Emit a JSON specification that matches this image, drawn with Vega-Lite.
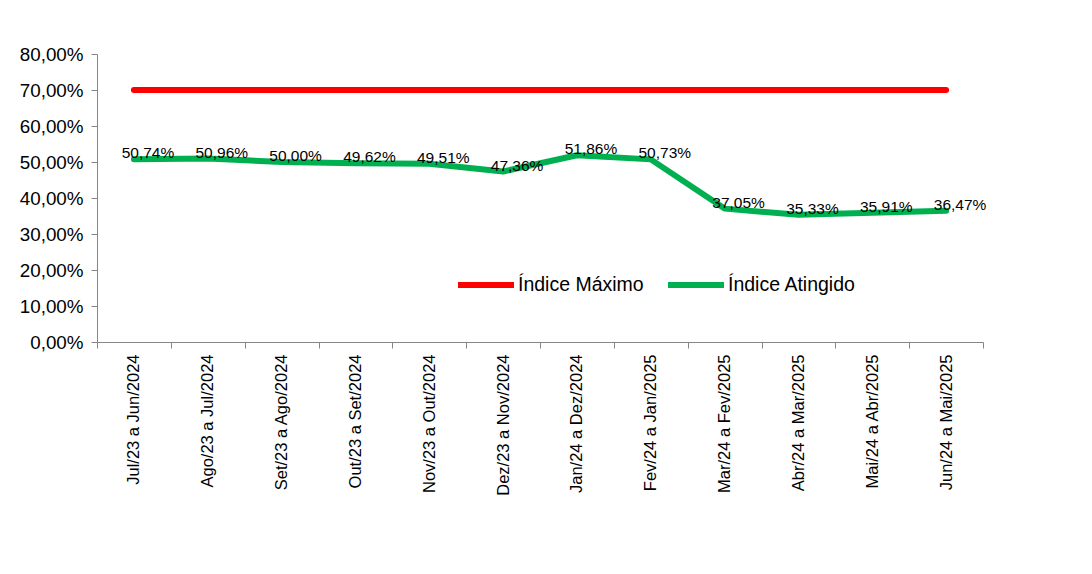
{
  "$schema": "https://vega.github.io/schema/vega-lite/v6.json",
  "width": 886,
  "height": 288,
  "autosize": {"type": "none"},
  "padding": {"left": 97, "top": 54, "right": 109, "bottom": 232},
  "background": "white",
  "config": {
    "font": "Liberation Sans",
    "view": {"stroke": null},
    "locale": {"number": {"decimal": ",", "thousands": ".", "grouping": [3], "currency": ["R$", ""]}}
  },
  "data": {
    "values": [
      {"periodo": "Jul/23 a Jun/2024", "serie": "Índice Máximo", "valor": 0.70},
      {"periodo": "Ago/23 a Jul/2024", "serie": "Índice Máximo", "valor": 0.70},
      {"periodo": "Set/23 a Ago/2024", "serie": "Índice Máximo", "valor": 0.70},
      {"periodo": "Out/23 a Set/2024", "serie": "Índice Máximo", "valor": 0.70},
      {"periodo": "Nov/23 a Out/2024", "serie": "Índice Máximo", "valor": 0.70},
      {"periodo": "Dez/23 a Nov/2024", "serie": "Índice Máximo", "valor": 0.70},
      {"periodo": "Jan/24 a Dez/2024", "serie": "Índice Máximo", "valor": 0.70},
      {"periodo": "Fev/24 a Jan/2025", "serie": "Índice Máximo", "valor": 0.70},
      {"periodo": "Mar/24 a Fev/2025", "serie": "Índice Máximo", "valor": 0.70},
      {"periodo": "Abr/24 a Mar/2025", "serie": "Índice Máximo", "valor": 0.70},
      {"periodo": "Mai/24 a Abr/2025", "serie": "Índice Máximo", "valor": 0.70},
      {"periodo": "Jun/24 a Mai/2025", "serie": "Índice Máximo", "valor": 0.70},
      {"periodo": "Jul/23 a Jun/2024", "serie": "Índice Atingido", "valor": 0.5074},
      {"periodo": "Ago/23 a Jul/2024", "serie": "Índice Atingido", "valor": 0.5096},
      {"periodo": "Set/23 a Ago/2024", "serie": "Índice Atingido", "valor": 0.5000},
      {"periodo": "Out/23 a Set/2024", "serie": "Índice Atingido", "valor": 0.4962},
      {"periodo": "Nov/23 a Out/2024", "serie": "Índice Atingido", "valor": 0.4951},
      {"periodo": "Dez/23 a Nov/2024", "serie": "Índice Atingido", "valor": 0.4736},
      {"periodo": "Jan/24 a Dez/2024", "serie": "Índice Atingido", "valor": 0.5186},
      {"periodo": "Fev/24 a Jan/2025", "serie": "Índice Atingido", "valor": 0.5073},
      {"periodo": "Mar/24 a Fev/2025", "serie": "Índice Atingido", "valor": 0.3705},
      {"periodo": "Abr/24 a Mar/2025", "serie": "Índice Atingido", "valor": 0.3533},
      {"periodo": "Mai/24 a Abr/2025", "serie": "Índice Atingido", "valor": 0.3591},
      {"periodo": "Jun/24 a Mai/2025", "serie": "Índice Atingido", "valor": 0.3647}
    ]
  },
  "encoding": {
    "x": {
      "field": "periodo",
      "type": "nominal",
      "sort": null,
      "bandPosition": 0.5,
      "scale": {"type": "band", "paddingInner": 0, "paddingOuter": 0},
      "axis": {
        "title": null,
        "labelAngle": -90,
        "labelFontSize": 16.5,
        "labelColor": "#000000",
        "labelPadding": 6,
        "tickBand": "extent",
        "tickSize": 6,
        "tickColor": "#868686",
        "domainColor": "#868686",
        "grid": false
      }
    },
    "y": {
      "field": "valor",
      "type": "quantitative",
      "scale": {"domain": [0, 0.8], "nice": false},
      "axis": {
        "title": null,
        "values": [0, 0.1, 0.2, 0.3, 0.4, 0.5, 0.6, 0.7, 0.8],
        "format": ".2%",
        "labelFontSize": 18.8,
        "labelColor": "#000000",
        "labelPadding": 8,
        "tickSize": 6,
        "tickColor": "#868686",
        "domainColor": "#868686",
        "grid": false
      }
    }
  },
  "layer": [
    {
      "mark": {"type": "line", "strokeWidth": 6, "strokeCap": "round", "strokeJoin": "round"},
      "encoding": {
        "color": {
          "field": "serie",
          "type": "nominal",
          "scale": {"domain": ["Índice Máximo", "Índice Atingido"], "range": ["#FF0000", "#00B050"]},
          "legend": {
            "title": null,
            "orient": "none",
            "legendX": 358,
            "legendY": 200,
            "direction": "horizontal",
            "symbolType": "stroke",
            "symbolSize": 3136,
            "symbolStrokeWidth": 6,
            "labelFontSize": 19.5,
            "labelColor": "#000000",
            "labelOffset": 1,
            "columnPadding": 12
          }
        }
      }
    },
    {
      "transform": [{"filter": "datum.serie === 'Índice Atingido'"}],
      "mark": {"type": "text", "dx": 14, "dy": -6, "fontSize": 15.5, "color": "#000000"},
      "encoding": {
        "text": {"field": "valor", "type": "quantitative", "format": ".2%"}
      }
    }
  ]
}
